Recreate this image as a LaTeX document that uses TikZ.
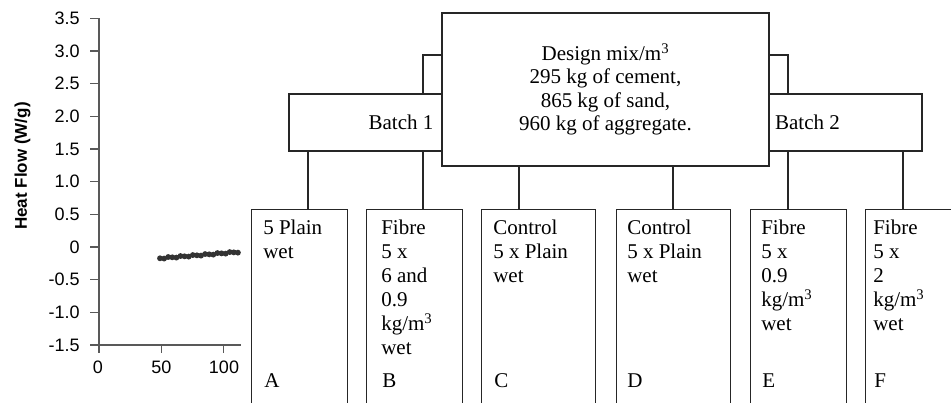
\documentclass[tikz,border=0pt]{standalone}
\usepackage{fontspec}
\setmainfont{Liberation Serif}
\setsansfont{Liberation Sans}
\usepackage{tikz}
\usepackage{xcolor}

\tikzset{
    mixline/.style={draw=black!85, line width=0.9pt},
    mixbox/.style={mixline, fill=white, inner sep=0pt,
        font=\fontsize{15.75}{17.5}\selectfont},
    casebox/.style={mixbox, anchor=north west, minimum height=165.75pt},
    casetext/.style={anchor=north west, inner sep=0pt, align=left,
        font=\fontsize{15.75}{18}\selectfont},
    axisline/.style={draw=black!65, line width=0.9pt},
    ticklabel/.style={inner sep=0pt, font=\sffamily\fontsize{13.5}{15}\selectfont},
}

\begin{document}
\begin{tikzpicture}[x=0.75pt, y=-0.75pt]
    \useasboundingbox (0,0) rectangle (951,403);
    \clip (0,0) rectangle (951,403);

    % Heat flow axes
    \draw [axisline] (99,18.3) -- (99,345) -- (241,345);
    \draw [axisline] (90,18.3) -- (99,18.3) (90,51) -- (99,51) (90,83.6) -- (99,83.6)
        (90,116.3) -- (99,116.3) (90,149) -- (99,149) (90,181.7) -- (99,181.7)
        (90,214.3) -- (99,214.3) (90,247) -- (99,247) (90,279.7) -- (99,279.7)
        (90,312.3) -- (99,312.3) (90,345) -- (99,345);
    \draw [axisline] (99,345) -- (99,352.7) (161.3,345) -- (161.3,352.7)
        (223.6,345) -- (223.6,352.7);

    % Tick labels
    \node [ticklabel, anchor=east] (y35) at (80,18.3) {3.5};
    \node [ticklabel, anchor=east] (y30) at (80,51) {3.0};
    \node [ticklabel, anchor=east] (y25) at (80,83.6) {2.5};
    \node [ticklabel, anchor=east] (y20) at (80,116.3) {2.0};
    \node [ticklabel, anchor=east] (y15) at (80,149) {1.5};
    \node [ticklabel, anchor=east] (y10) at (80,181.7) {1.0};
    \node [ticklabel, anchor=east] (y05) at (80,214.3) {0.5};
    \node [ticklabel, anchor=east] (y00) at (80,247) {0};
    \node [ticklabel, anchor=east] (ym05) at (80,279.7) {-0.5};
    \node [ticklabel, anchor=east] (ym10) at (80,312.3) {-1.0};
    \node [ticklabel, anchor=east] (ym15) at (80,345) {-1.5};
    \node [ticklabel, anchor=north] (x0) at (98,361) {0};
    \node [ticklabel, anchor=north] (x50) at (161.3,361) {50};
    \node [ticklabel, anchor=north] (x100) at (224,361) {100};
    \node [font=\sffamily\bfseries\fontsize{12.75}{15}\selectfont, rotate=90] (ytitle)
        at (22.5,166) {Heat Flow (W/g)};

    % Measured points
    \foreach \i in {0,...,19}
        \fill [black!80] ({160+4.1*\i}, {258.3-0.33*\i+0.7*sin(120*\i)}) circle [radius=2.2pt];

    % Batches
    \node [mixbox, minimum width=168pt, minimum height=42.75pt] (batch1) at (401,122.5) {Batch 1};
    \node [mixbox, minimum width=171.75pt, minimum height=42.75pt] (batch2) at (807.5,122.5) {Batch 2};

    % Design mix
    \node [mixbox, minimum width=245.25pt, minimum height=114.75pt, align=center] (design)
        at (605.5,89.5) {Design mix/m\textsuperscript{3}\\295 kg of cement,\\865 kg of sand,\\960 kg of aggregate.};

    \coordinate (join1) at (423,55);
    \coordinate (join2) at (788,55);
    \draw [mixline] (batch1.north -| join1) |- (design.west |- join1);
    \draw [mixline] (batch2.north -| join2) |- (design.east |- join2);

    % Mixes
    \node [casebox, minimum width=72pt] (A) at (251,209) {};
    \node [casebox, minimum width=72pt] (B) at (366,209) {};
    \node [casebox, minimum width=85.5pt] (C) at (481,209) {};
    \node [casebox, minimum width=85.5pt] (D) at (616,209) {};
    \node [casebox, minimum width=72pt] (E) at (750,209) {};
    \node [casebox, minimum width=72pt] (F) at (865,209) {};

    \node [casetext] (Atext) at (263,220) {5 Plain\\wet};
    \node [casetext] (Btext) at (381,220) {Fibre\\5 x\\6 and\\0.9\\kg/m\textsuperscript{3}\\wet};
    \node [casetext] (Ctext) at (493,220) {Control\\5 x Plain\\wet};
    \node [casetext] (Dtext) at (627,220) {Control\\5 x Plain\\wet};
    \node [casetext] (Etext) at (761,220) {Fibre\\5 x\\0.9\\kg/m\textsuperscript{3}\\wet};
    \node [casetext] (Ftext) at (873,220) {Fibre\\5 x\\2\\kg/m\textsuperscript{3}\\wet};

    \node [casetext] (Aname) at (264,373) {A};
    \node [casetext] (Bname) at (382,373) {B};
    \node [casetext] (Cname) at (494,373) {C};
    \node [casetext] (Dname) at (627,373) {D};
    \node [casetext] (Ename) at (762,373) {E};
    \node [casetext] (Fname) at (874,373) {F};

    % Drops to the mixes
    \coordinate (dropA) at (308,0);
    \coordinate (dropC) at (519,0);
    \coordinate (dropD) at (673,0);
    \coordinate (dropF) at (903,0);
    \draw [mixline] (batch1.south -| dropA) -- (A.north -| dropA);
    \draw [mixline] (batch1.south -| join1) -- (B.north -| join1);
    \draw [mixline] (design.south -| dropC) -- (C.north -| dropC);
    \draw [mixline] (design.south -| dropD) -- (D.north -| dropD);
    \draw [mixline] (batch2.south -| join2) -- (E.north -| join2);
    \draw [mixline] (batch2.south -| dropF) -- (F.north -| dropF);
\end{tikzpicture}
\end{document}
